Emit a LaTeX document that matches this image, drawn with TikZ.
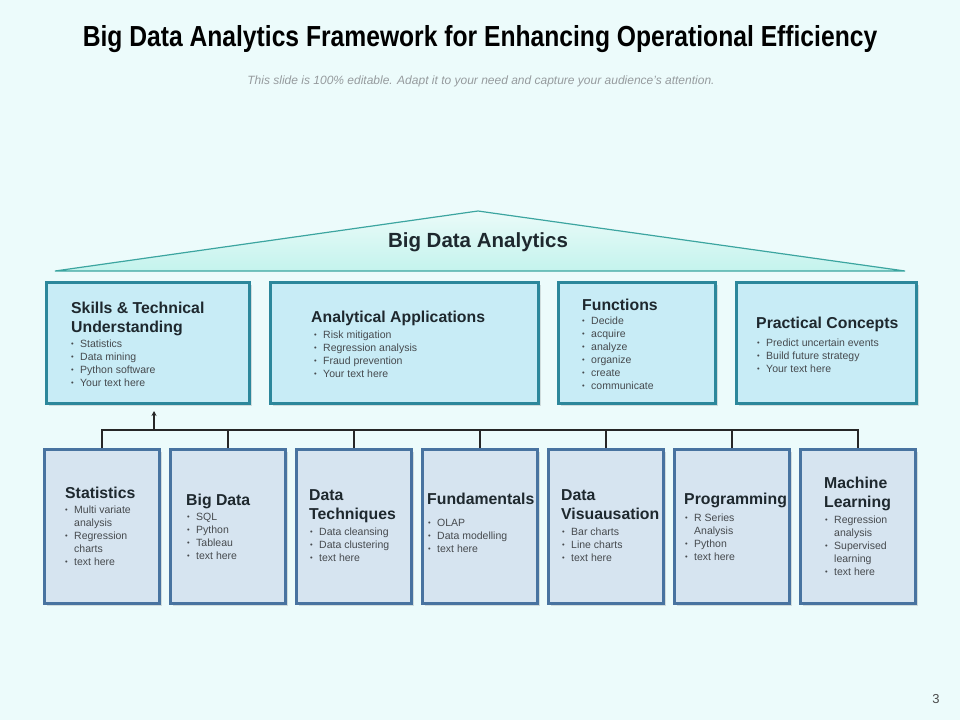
\documentclass[tikz,border=0pt]{standalone}
\usepackage{fontspec}
\setmainfont{Liberation Sans}
\newfontfamily\titlefont{Liberation Sans}[FakeStretch=0.85]
\usetikzlibrary{positioning, arrows.meta, calc, shadows}

\definecolor{bgc}{RGB}{236,251,251}
\definecolor{roofline}{RGB}{60,165,160}
\definecolor{rooffill}{RGB}{196,243,237}
\definecolor{topfill}{RGB}{200,236,246}
\definecolor{topline}{RGB}{44,135,155}
\definecolor{botfill}{RGB}{214,228,240}
\definecolor{botline}{RGB}{72,115,160}
\definecolor{headc}{RGB}{30,40,46}
\definecolor{itemc}{RGB}{70,74,78}
\definecolor{subc}{RGB}{150,155,158}

\newcommand{\bl}{\makebox[9pt][l]{\raisebox{1pt}{\fontsize{7.5}{7.5}\selectfont\textbullet}}}
\newcommand{\cn}{\hspace*{9pt}}

\begin{document}
\begin{tikzpicture}[
  x=1pt, y=-1pt,
  topbox/.style={
    rectangle, draw=topline, fill=topfill, line width=3pt,
    minimum height=121pt, inner sep=0pt,
    drop shadow={shadow xshift=2pt, shadow yshift=-2pt, opacity=.25}
  },
  botbox/.style={
    rectangle, draw=botline, fill=botfill, line width=3pt,
    minimum width=115pt, minimum height=154pt, inner sep=0pt,
    drop shadow={shadow xshift=2pt, shadow yshift=-2pt, opacity=.25}
  },
  head/.style={
    anchor=north west, inner sep=0pt, align=left, text=headc,
    font=\fontsize{15.8}{19}\selectfont\bfseries
  },
  items/.style={
    anchor=north west, inner sep=0pt, align=left, text=itemc,
    font=\fontsize{10.5}{13}\selectfont
  },
  bus/.style={line width=1.6pt, black!85},
  arr/.style={-{Stealth[length=5pt, width=5pt]}, line width=1.6pt, black!85},
]

\useasboundingbox[fill=bgc] (0,0) rectangle (960,720);

%% ── Title ────────────────────────────────────────────────────────────────────
\node[font=\titlefont\bfseries\fontsize{29}{34}\selectfont] (title) at (480,39)
  {Big Data Analytics Framework for Enhancing Operational Efficiency};
\node[font=\itshape\fontsize{12}{14}\selectfont, text=subc] (sub) at (481,81)
  {This slide is 100\% editable. Adapt it to your need and capture your audience’s attention.};

%% ── Roof ─────────────────────────────────────────────────────────────────────
\draw[draw=roofline, line width=1.2pt, top color=rooffill!35!white, bottom color=rooffill]
  (55,271) -- (478,211) -- (905,271) -- cycle;
\node[font=\fontsize{20.5}{24}\selectfont\bfseries, text=headc] (roof) at (478,242) {Big Data Analytics};

%% ── Top row ──────────────────────────────────────────────────────────────────
\node[topbox, minimum width=203pt] (skill) at (148,343) {};
\node[topbox, minimum width=268pt] (appl)  at (404.5,343) {};
\node[topbox, minimum width=157pt] (func)  at (637,343) {};
\node[topbox, minimum width=180pt] (prac)  at (826.5,343) {};

\node[head] (skillh) at (71,301.5) {Skills \& Technical\\Understanding};
\node[items] (skilli) at (71,340) {\bl Statistics\\\bl Data mining\\\bl Python software\\\bl Your text here};

\node[head] (applh) at (311,310.5) {Analytical Applications};
\node[items] (appli) at (314,331) {\bl Risk mitigation\\\bl Regression analysis\\\bl Fraud prevention\\\bl Your text here};

\node[head] (funch) at (582,298.5) {Functions};
\node[items] (funci) at (582,317) {\bl Decide\\\bl acquire\\\bl analyze\\\bl organize\\\bl create\\\bl communicate};

\node[head] (prach) at (756,316.5) {Practical Concepts};
\node[items] (praci) at (757,339) {\bl Predict uncertain events\\\bl Build  future strategy\\\bl Your text here};

%% ── Bottom row ───────────────────────────────────────────────────────────────
\node[botbox] (stat) at (102,526.5) {};
\node[botbox] (bigd) at (228,526.5) {};
\node[botbox] (tech) at (354,526.5) {};
\node[botbox] (fund) at (480,526.5) {};
\node[botbox] (visu) at (606,526.5) {};
\node[botbox] (prog) at (732,526.5) {};
\node[botbox] (mach) at (858,526.5) {};

\node[head] (stath) at (65,486.5) {Statistics};
\node[items] (stati) at (65,506) {\bl Multi variate\\\cn analysis\\\bl Regression\\\cn charts\\\bl text here};

\node[head] (bigdh) at (186,493.5) {Big Data};
\node[items] (bigdi) at (187,513) {\bl SQL\\\bl Python\\\bl Tableau\\\bl text here};

\node[head] (techh) at (309,489.5) {Data\\Techniques};
\node[items] (techi) at (310,528) {\bl Data cleansing\\\bl Data clustering\\\bl text here};

\node[head] (fundh) at (427,492.8) {Fundamentals};
\node[items] (fundi) at (428,519) {\bl OLAP\\\bl Data modelling\\\bl text here};

\node[head] (visuh) at (561,489.5) {Data\\Visuausation};
\node[items] (visui) at (562,528) {\bl Bar charts\\\bl Line charts\\\bl text here};

\node[head] (progh) at (684,492.8) {Programming};
\node[items] (progi) at (685,513.5) {\bl R Series\\\cn Analysis\\\bl Python\\\bl text here};

\node[head] (machh) at (824,476.8) {Machine\\Learning};
\node[items] (machi) at (825,515.5) {\bl Regression\\\cn analysis\\\bl Supervised\\\cn learning\\\bl text here};

%% ── Connectors ───────────────────────────────────────────────────────────────
\draw[bus] (stat.north) -- ++(0,-18) -| (mach.north);
\foreach \n in {bigd, tech, fund, visu, prog}
  \draw[bus] (\n.north) -- ++(0,-18);
\coordinate (hub) at (154,430);
\draw[arr] (hub) -- ($(hub |- skill.south)+(0,6)$);

%% ── Page number ──────────────────────────────────────────────────────────────
\node[font=\fontsize{13}{15}\selectfont, text=black!70] (page) at (936,699) {3};

\end{tikzpicture}
\end{document}
